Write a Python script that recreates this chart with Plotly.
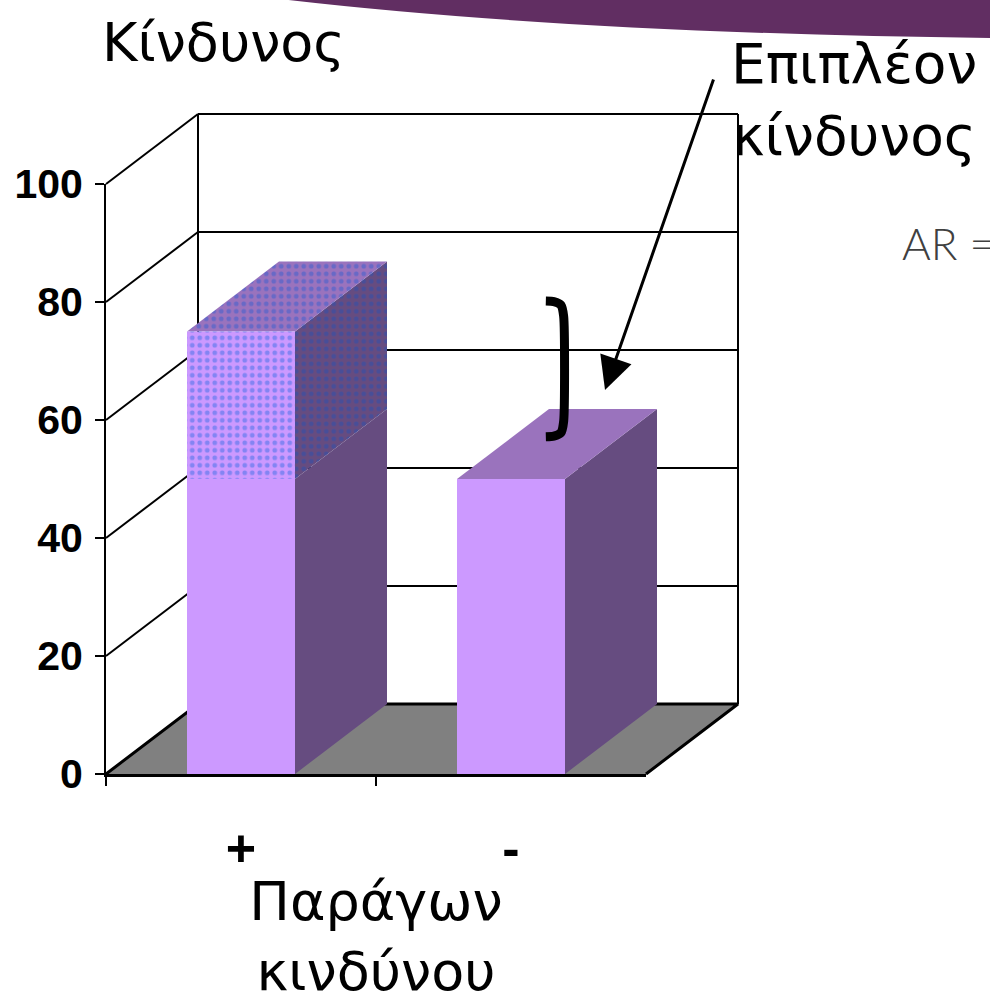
import plotly.graph_objects as go

# ---------------- data ----------------
categories = ["+", "-"]            # risk factor present / absent
base_values = [50, 50]             # baseline risk
extra_values = [25, 0]             # additional (attributable) risk
y_tick_values = [0, 20, 40, 60, 80, 100]

# ---------------- layout geometry (pixels) ----------------
W, H = 990, 1003
X0_PX, X1_PX = 106, 646           # front category axis extent
Y0_PX, Y100_PX = 774, 184          # front value axis: 0 and 100
DEPTH_X_PX, DEPTH_Y_PX = 92, 70    # 3-D depth offset
BAR_W = 0.4

n = len(categories)
idx = list(range(n))
px_per_cat = (X1_PX - X0_PX) / n
px_per_val = (Y0_PX - Y100_PX) / 100.0
DX = DEPTH_X_PX / px_per_cat
DY = DEPTH_Y_PX / px_per_val
xa0, xa1 = -0.5, n - 0.5

geo_xrange = [xa0 - X0_PX / px_per_cat, xa0 + (W - X0_PX) / px_per_cat]
geo_yrange = [-(H - Y0_PX) / px_per_val, Y0_PX / px_per_val]

FRONT = "#CC99FF"
SIDE = "#664C80"
TOP = "#9A73BD"
FLOOR = "#808080"

fig = go.Figure()


def poly(xs, ys, color, pattern=None):
    kw = dict(x=xs + [xs[0]], y=ys + [ys[0]], mode="lines", fill="toself",
              fillcolor=color, line=dict(width=0, color=color),
              hoverinfo="skip", showlegend=False, xaxis="x", yaxis="y")
    if pattern:
        kw["fillpattern"] = pattern
    fig.add_trace(go.Scatter(**kw))


def lines(xs, ys, width, color="black"):
    fig.add_trace(go.Scatter(x=xs, y=ys, mode="lines", line=dict(color=color, width=width),
                             hoverinfo="skip", showlegend=False, xaxis="x", yaxis="y"))


# floor
poly([xa0, xa1, xa1 + DX, xa0 + DX], [0, 0, DY, DY], FLOOR)

# back wall gridlines & edges
gx, gy = [], []
for v in y_tick_values[1:]:
    gx += [xa0 + DX, xa1 + DX, None]
    gy += [v + DY, v + DY, None]
gx += [xa0 + DX, xa0 + DX, None, xa1 + DX, xa1 + DX, None]
gy += [DY, 100 + DY, None, DY, 100 + DY, None]
lines(gx, gy, 2)
# left wall diagonals
lx, ly = [], []
for v in y_tick_values[1:]:
    lx += [xa0, xa0 + DX, None]
    ly += [v, v + DY, None]
lines(lx, ly, 2)
# floor edges
lines([xa0, xa0 + DX, xa1 + DX, xa1], [0, DY, DY, 0], 3)

# 3-D bar sides and tops
dot_side = dict(shape=".", fgcolor="#2A4FB0", bgcolor=SIDE, size=7.5, solidity=0.32)
dot_top = dict(shape=".", fgcolor="#3560D0", bgcolor=TOP, size=7.5, solidity=0.32)
for i in idx:
    xl, xr = i - BAR_W / 2, i + BAR_W / 2
    b = base_values[i]
    e = extra_values[i]
    poly([xr, xr + DX, xr + DX, xr], [0, DY, b + DY, b], SIDE)
    if e > 0:
        poly([xr, xr + DX, xr + DX, xr], [b, b + DY, b + e + DY, b + e], SIDE, pattern=dot_side)
        poly([xl, xr, xr + DX, xl + DX], [b + e, b + e, b + e + DY, b + e + DY], TOP, pattern=dot_top)
    else:
        poly([xl, xr, xr + DX, xl + DX], [b, b, b + DY, b + DY], TOP)

# bracket showing the additional risk next to the unexposed bar
diff = extra_values[0] * 0.92
j = 1
bx = j + BAR_W / 2 - 0.005
mid = base_values[j] + extra_values[0] / 2 + 0.52 * DY
lo, hi = mid - diff / 2, mid + diff / 2
hook = 0.066
fig.add_trace(go.Scatter(
    x=[bx - hook, bx - hook * 0.55, bx - hook * 0.15, bx, bx, bx - hook * 0.15, bx - hook * 0.55, bx - hook],
    y=[hi, hi - 0.1, hi - 0.7, hi - 2.6, lo + 2.6, lo + 0.7, lo + 0.1, lo],
    mode="lines", line=dict(color="black", width=9, shape="spline", smoothing=0.6),
    hoverinfo="skip", showlegend=False, xaxis="x", yaxis="y"))

# front faces as real bars on the front axes
fig.add_trace(go.Bar(x=idx, y=base_values, width=BAR_W, marker=dict(color=FRONT, line=dict(width=0)),
                     xaxis="x2", yaxis="y2", hoverinfo="skip", showlegend=False))
fig.add_trace(go.Bar(x=idx, y=extra_values, base=base_values, width=BAR_W,
                     marker=dict(color=FRONT, line=dict(width=0),
                                 pattern=dict(shape=".", fgcolor="#3A6FE8", size=7.5, solidity=0.32)),
                     xaxis="x2", yaxis="y2", hoverinfo="skip", showlegend=False))

TXT = "DejaVu Sans"
AX_FONT = dict(family="Liberation Sans, Arial", color="black", weight="bold")

fig.update_layout(
    width=W, height=H, margin=dict(l=0, r=0, t=0, b=0, autoexpand=False),
    paper_bgcolor="white", plot_bgcolor="rgba(0,0,0,0)",
    barmode="overlay",
    xaxis=dict(domain=[0, 1], range=geo_xrange, visible=False, fixedrange=True, automargin=False),
    yaxis=dict(domain=[0, 1], range=geo_yrange, visible=False, fixedrange=True, automargin=False),
    xaxis2=dict(domain=[X0_PX / W, X1_PX / W], range=[xa0, xa1], anchor="y2", automargin=False,
                tickmode="array", tickvals=idx, ticktext=categories, ticks="",
                tickfont=dict(size=52, **AX_FONT), ticklabelstandoff=27,
                showline=True, linecolor="black", linewidth=3, showgrid=False, zeroline=False,
                minor=dict(tickmode="array", tickvals=[xa0 + k for k in range(n)], ticks="outside",
                           ticklen=9, tickwidth=2, tickcolor="black", showgrid=False),
                title=dict(text="Παράγων<br>κινδύνου", font=dict(family=TXT, size=54, color="black"),
                           standoff=6),
                fixedrange=True),
    yaxis2=dict(domain=[1 - Y0_PX / H, 1 - Y100_PX / H], range=[0, 100], anchor="x2", automargin=False,
                tickmode="array", tickvals=y_tick_values, ticks="outside", ticklen=9, tickwidth=2,
                tickcolor="black", tickfont=dict(size=41, **AX_FONT), ticklabelstandoff=4,
                showline=True, linecolor="black", linewidth=2, showgrid=False, zeroline=False,
                fixedrange=True),
    shapes=[dict(type="path", xref="paper", yref="paper", layer="above",
                 path="M 0.2828,1.001 Q 0.5758,0.9671 1.001,0.9621 L 1.001,1.001 Z",
                 fillcolor="#612E62", line=dict(width=0))],
    annotations=[
        dict(text="Κίνδυνος", xref="paper", yref="paper", x=100 / W, y=1 - 42 / H,
             xanchor="left", yanchor="middle", showarrow=False,
             font=dict(family=TXT, size=54, color="black")),
        dict(text="Επιπλέον<br>κίνδυνος", xref="paper", yref="paper", x=854 / W, y=1 - 100 / H,
             xanchor="center", yanchor="middle", align="center", showarrow=False,
             font=dict(family=TXT, size=55, color="black")),
        dict(text="", xref="paper", yref="paper", x=605 / W, y=1 - 390 / H,
             ax=714 - 605, ay=78 - 390, showarrow=True, arrowhead=2, arrowsize=2.2,
             arrowwidth=3, arrowcolor="black"),
        dict(text="AR =", xref="paper", yref="paper", x=900 / W, y=1 - 243 / H,
             xanchor="left", yanchor="middle", showarrow=False,
             font=dict(family="Lato", size=44, color="#404040", weight=300)),
    ],
)

fig.write_html("out.html")
